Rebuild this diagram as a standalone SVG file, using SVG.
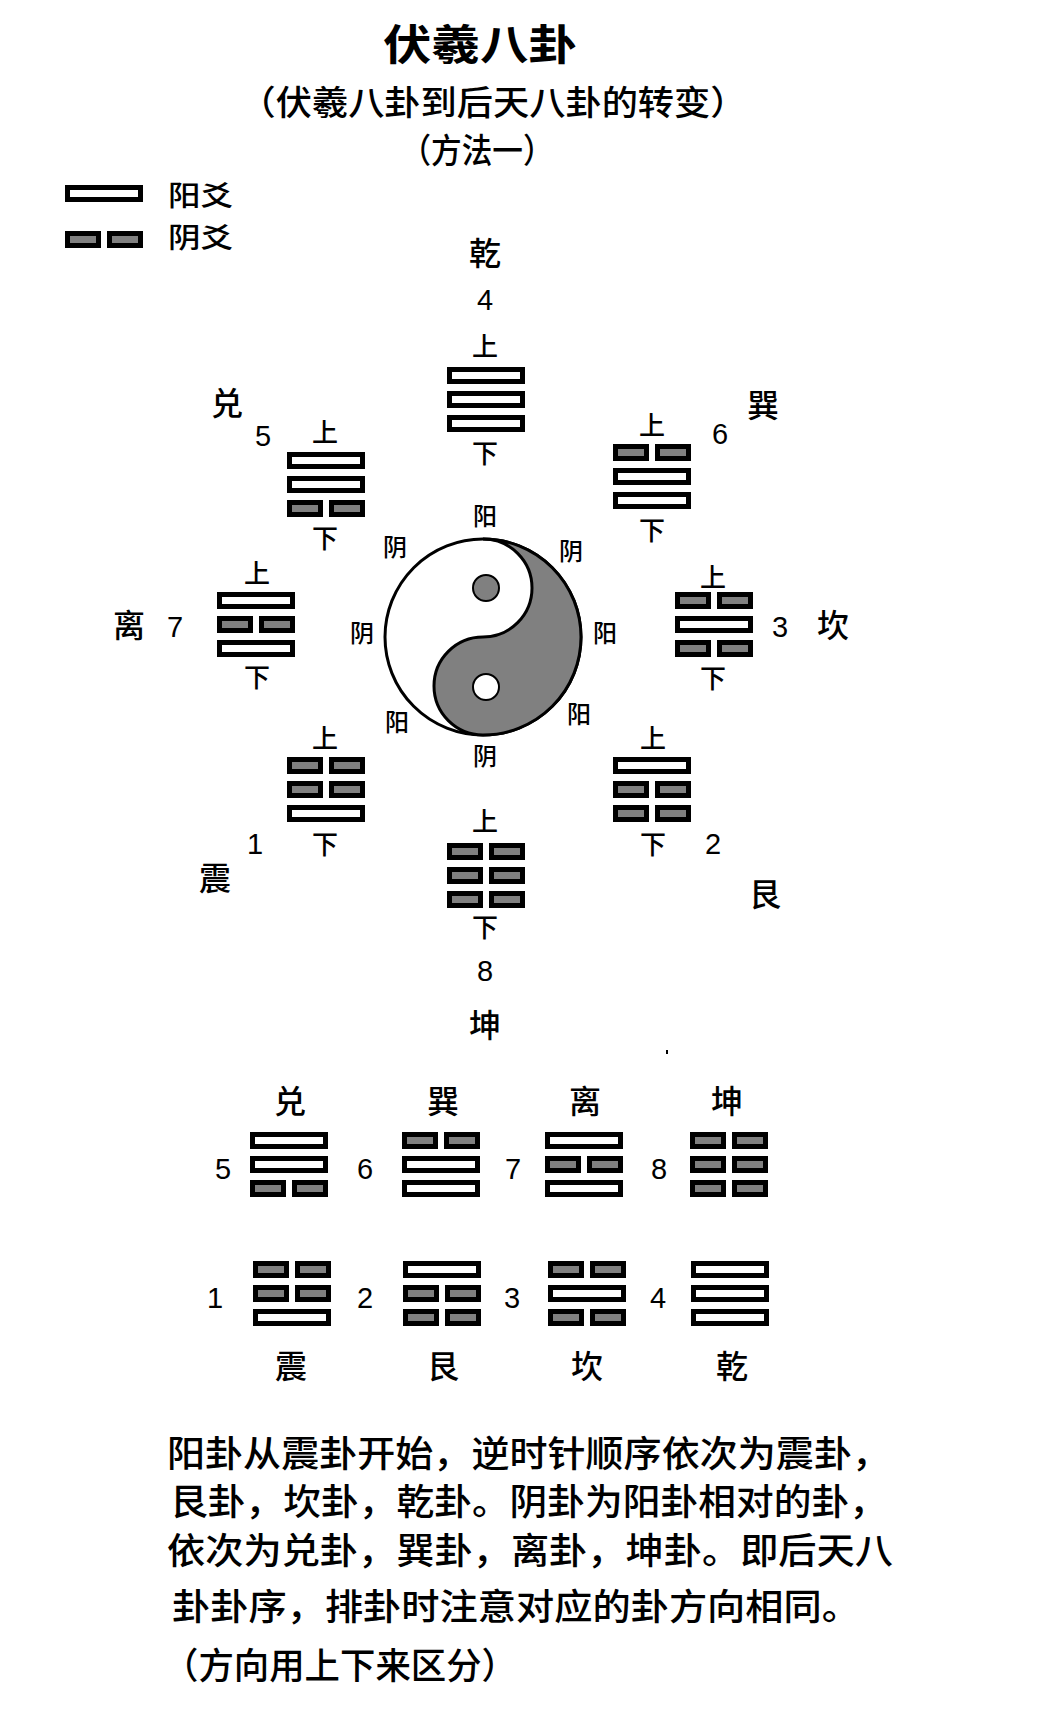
<svg xmlns="http://www.w3.org/2000/svg" xmlns:xlink="http://www.w3.org/1999/xlink" width="1040" height="1729" viewBox="0 0 1040 1729">
<style>
text{font-family:"Noto Sans CJK SC","Liberation Sans",sans-serif;fill:#000;font-weight:500}
.t{font-size:42px;font-weight:700;text-anchor:middle}
.s{font-size:34px;text-anchor:middle}
.g{font-size:32px;text-anchor:middle}
.n{font-size:29px;text-anchor:middle;font-family:"Liberation Sans",sans-serif}
.ud{font-size:26px;text-anchor:middle}
.yy{font-size:24px;text-anchor:middle}
.p{font-size:36px}
.yl{fill:#fff;stroke:#000;stroke-width:5}
.yn{fill:#808080;stroke:#000;stroke-width:5}
</style>
<defs>
<g id="yang"><rect class="yl" x="2.5" y="2.5" width="73" height="12"/></g>
<g id="yin"><rect class="yn" x="2.5" y="2.5" width="31" height="12"/><rect class="yn" x="44.5" y="2.5" width="31" height="12"/></g>
</defs>
<rect width="1040" height="1729" fill="#fff"/>
<g id="title">
<text class="t" x="480" y="60" textLength="194" lengthAdjust="spacingAndGlyphs">伏羲八卦</text>
<text class="s" x="493" y="115" textLength="507" lengthAdjust="spacingAndGlyphs">（伏羲八卦到后天八卦的转变）</text>
<text class="s" x="477" y="163" textLength="153" lengthAdjust="spacingAndGlyphs">（方法一）</text>
</g>
<g id="legend">
<use href="#yang" x="65" y="185"/>
<text x="168" y="206" font-size="28" textLength="65" lengthAdjust="spacingAndGlyphs">阳爻</text>
<use href="#yin" x="65" y="231"/>
<text x="168" y="248" font-size="28" textLength="65" lengthAdjust="spacingAndGlyphs">阴爻</text>
</g>
<g id="taiji">
<circle cx="483" cy="637" r="98" fill="#fff" stroke="#000" stroke-width="3"/>
<path d="M483,539 A98,98 0 0 1 483,735 A49,49 0 0 1 483,637 A49,49 0 0 0 483,539 Z" fill="#808080" stroke="#000" stroke-width="3"/>
<circle cx="486" cy="588" r="13" fill="#808080" stroke="#000" stroke-width="2"/>
<circle cx="486" cy="687" r="13" fill="#fff" stroke="#000" stroke-width="2"/>
<text class="yy" x="485" y="525">阳</text>
<text class="yy" x="395" y="556">阴</text>
<text class="yy" x="571" y="560">阴</text>
<text class="yy" x="362" y="642">阴</text>
<text class="yy" x="605" y="642">阳</text>
<text class="yy" x="397" y="731">阳</text>
<text class="yy" x="579" y="723">阳</text>
<text class="yy" x="485" y="765">阴</text>
</g>
<g id="qian">
<text class="g" x="485" y="265">乾</text><text class="n" x="485" y="310">4</text>
<text class="ud" x="485" y="356">上</text>
<use href="#yang" x="447" y="367"/><use href="#yang" x="447" y="391"/><use href="#yang" x="447" y="415"/>
<text class="ud" x="485" y="463">下</text>
</g>
<g id="dui">
<text class="g" x="227" y="415">兑</text><text class="n" x="263" y="446">5</text>
<text class="ud" x="325" y="442">上</text>
<use href="#yang" x="287" y="452"/><use href="#yang" x="287" y="476"/><use href="#yin" x="287" y="500"/>
<text class="ud" x="325" y="548">下</text>
</g>
<g id="xun">
<text class="g" x="763" y="417">巽</text><text class="n" x="720" y="444">6</text>
<text class="ud" x="652" y="435">上</text>
<use href="#yin" x="613" y="444"/><use href="#yang" x="613" y="468"/><use href="#yang" x="613" y="492"/>
<text class="ud" x="652" y="540">下</text>
</g>
<g id="li">
<text class="g" x="129" y="637">离</text><text class="n" x="175" y="637">7</text>
<text class="ud" x="257" y="583">上</text>
<use href="#yang" x="217" y="592"/><use href="#yin" x="217" y="616"/><use href="#yang" x="217" y="640"/>
<text class="ud" x="257" y="687">下</text>
</g>
<g id="kan">
<text class="g" x="833" y="637">坎</text><text class="n" x="780" y="637">3</text>
<text class="ud" x="713" y="587">上</text>
<use href="#yin" x="675" y="592"/><use href="#yang" x="675" y="616"/><use href="#yin" x="675" y="640"/>
<text class="ud" x="713" y="688">下</text>
</g>
<g id="zhen">
<text class="ud" x="325" y="748">上</text>
<use href="#yin" x="287" y="757"/><use href="#yin" x="287" y="781"/><use href="#yang" x="287" y="805"/>
<text class="ud" x="325" y="854">下</text>
<text class="n" x="255" y="854">1</text><text class="g" x="215" y="890">震</text>
</g>
<g id="gen">
<text class="ud" x="653" y="748">上</text>
<use href="#yang" x="613" y="757"/><use href="#yin" x="613" y="781"/><use href="#yin" x="613" y="805"/>
<text class="ud" x="653" y="854">下</text>
<text class="n" x="713" y="854">2</text><text class="g" x="765" y="906">艮</text>
</g>
<g id="kun">
<text class="ud" x="485" y="831">上</text>
<use href="#yin" x="447" y="843"/><use href="#yin" x="447" y="867"/><use href="#yin" x="447" y="891"/>
<text class="ud" x="485" y="937">下</text>
<text class="n" x="485" y="981">8</text><text class="g" x="485" y="1037">坤</text>
</g>
<rect x="666" y="1050" width="2" height="4" fill="#000"/>
<g id="row1">
<text class="g" x="290" y="1113">兑</text><text class="g" x="443" y="1113">巽</text><text class="g" x="585" y="1113">离</text><text class="g" x="727" y="1113">坤</text>
<text class="n" x="223" y="1179">5</text><text class="n" x="365" y="1179">6</text><text class="n" x="513" y="1179">7</text><text class="n" x="659" y="1179">8</text>
<use href="#yang" x="250" y="1132"/><use href="#yang" x="250" y="1156"/><use href="#yin" x="250" y="1180"/>
<use href="#yin" x="402" y="1132"/><use href="#yang" x="402" y="1156"/><use href="#yang" x="402" y="1180"/>
<use href="#yang" x="545" y="1132"/><use href="#yin" x="545" y="1156"/><use href="#yang" x="545" y="1180"/>
<use href="#yin" x="690" y="1132"/><use href="#yin" x="690" y="1156"/><use href="#yin" x="690" y="1180"/>
</g>
<g id="row2">
<use href="#yin" x="253" y="1261"/><use href="#yin" x="253" y="1285"/><use href="#yang" x="253" y="1309"/>
<use href="#yang" x="403" y="1261"/><use href="#yin" x="403" y="1285"/><use href="#yin" x="403" y="1309"/>
<use href="#yin" x="548" y="1261"/><use href="#yang" x="548" y="1285"/><use href="#yin" x="548" y="1309"/>
<use href="#yang" x="691" y="1261"/><use href="#yang" x="691" y="1285"/><use href="#yang" x="691" y="1309"/>
<text class="n" x="215" y="1308">1</text><text class="n" x="365" y="1308">2</text><text class="n" x="512" y="1308">3</text><text class="n" x="658" y="1308">4</text>
<text class="g" x="291" y="1378">震</text><text class="g" x="443" y="1378">艮</text><text class="g" x="587" y="1378">坎</text><text class="g" x="732" y="1378">乾</text>
</g>
<g id="para">
<text class="p" x="167" y="1467" textLength="723" lengthAdjust="spacingAndGlyphs">阳卦从震卦开始，逆时针顺序依次为震卦，</text>
<text class="p" x="170" y="1515" textLength="717" lengthAdjust="spacingAndGlyphs">艮卦，坎卦，乾卦。阴卦为阳卦相对的卦，</text>
<text class="p" x="167" y="1564" textLength="726" lengthAdjust="spacingAndGlyphs">依次为兑卦，巽卦，离卦，坤卦。即后天八</text>
<text class="p" x="172" y="1620" textLength="688" lengthAdjust="spacingAndGlyphs">卦卦序，排卦时注意对应的卦方向相同。</text>
<text class="p" x="163" y="1679" textLength="354" lengthAdjust="spacingAndGlyphs">（方向用上下来区分）</text>
</g>
</svg>
